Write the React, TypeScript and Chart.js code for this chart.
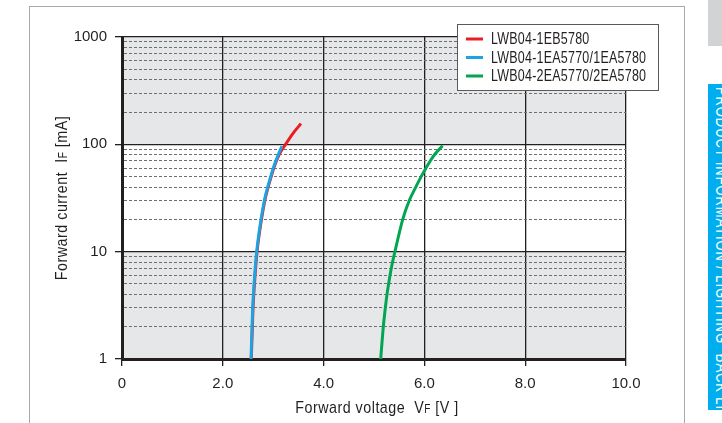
import React, { useEffect, useRef } from 'react';
import { Chart, registerables } from 'chart.js';

Chart.register(...registerables);

// ---------- data ----------
const seriesLabels = ['LWB04-1EB5780', 'LWB04-1EA5770/1EA5780', 'LWB04-2EA5770/2EA5780'];
const seriesColors = ['#ed1c24', '#1ba4e1', '#00a651'];

const redV = [2.565, 2.587, 2.60, 2.628, 2.68, 2.768, 2.834, 2.90, 2.96, 3.01, 3.115, 3.245, 3.39, 3.55];
const redI = [1, 2, 3, 5, 10, 20, 30, 40, 50, 60, 80, 100, 126, 156];

const blueV = [2.56, 2.58, 2.593, 2.62, 2.672, 2.758, 2.824, 2.89, 2.95, 3.00, 3.10, 3.17];
const blueI = [1, 2, 3, 5, 10, 20, 30, 40, 50, 60, 80, 96];

const greenV = [5.133, 5.185, 5.225, 5.258, 5.29, 5.317, 5.368, 5.415, 5.57, 5.70, 5.83, 5.935, 6.03, 6.115, 6.20, 6.36];
const greenI = [1, 2, 3, 4, 5, 6, 8, 10, 20, 30, 40, 50, 60, 70, 80, 97];

const xTickValues = [0, 2, 4, 6, 8, 10];
const yMajorTicks = [1, 10, 100, 1000];
const yMinorTicks = [2, 3, 4, 5, 6, 7, 8, 9, 20, 30, 40, 50, 60, 70, 80, 90, 200, 300, 400, 500, 600, 700, 800, 900];
const shadedBands = [[100, 1000], [1, 10]];

const xTitleParts = ['Forward voltage  V', 'F', ' [V ]'];
const yTitleParts = ['Forward current  I', 'F', ' [mA]'];
const sideText = 'PRODUCT INFORMATION / LIGHTING  \u30FB  BACK LIGHT SMD LED';

// ---------- styles ----------
const FONT = "'Liberation Sans', Arial, sans-serif";
const DARK = '#231f20';
const MINOR = '#6d6e71';
const BAND = '#e6e7e8';
const NARROW = 0.84;

const isMajor = (v: number) => yMajorTicks.includes(v);

const bandPlugin = {
  id: 'bands',
  beforeDraw(chart: any) {
    const { ctx, chartArea, scales } = chart;
    ctx.save();
    ctx.fillStyle = BAND;
    for (const [lo, hi] of shadedBands) {
      const y1 = scales.y.getPixelForValue(hi);
      const y2 = scales.y.getPixelForValue(lo);
      ctx.fillRect(chartArea.left, y1, chartArea.right - chartArea.left, y2 - y1);
    }
    ctx.restore();
  },
};

function drawParts(ctx: any, parts: string[], big: number, small: number, spacing: number) {
  ctx.letterSpacing = `${spacing}px`;
  const fonts = parts.map((_, i) => (i === 1 ? `${small}px ${FONT}` : `${big}px ${FONT}`));
  const widths = parts.map((p, i) => {
    ctx.font = fonts[i];
    return ctx.measureText(p).width;
  });
  const total = widths.reduce((a, b) => a + b, 0);
  ctx.scale(NARROW, 1);
  let x = -total / 2;
  parts.forEach((p, i) => {
    ctx.font = fonts[i];
    ctx.fillText(p, x, 0);
    x += widths[i];
  });
  ctx.letterSpacing = '0px';
}

const titlePlugin = {
  id: 'axisTitles',
  afterDraw(chart: any) {
    const { ctx, chartArea } = chart;
    ctx.save();
    ctx.fillStyle = DARK;
    ctx.textBaseline = 'alphabetic';
    ctx.textAlign = 'left';
    ctx.save();
    ctx.translate((chartArea.left + chartArea.right) / 2 + 3, 413);
    drawParts(ctx, xTitleParts, 17, 12, 0.6);
    ctx.restore();
    ctx.save();
    ctx.translate(67, (chartArea.top + chartArea.bottom) / 2);
    ctx.rotate(-Math.PI / 2);
    drawParts(ctx, yTitleParts, 17, 12, 0.6);
    ctx.restore();
    ctx.restore();
  },
};

const legendPlugin = {
  id: 'boxLegend',
  afterDraw(chart: any) {
    const { ctx } = chart;
    const bx = 457, by = 24, bw = 201, bh = 66;
    ctx.save();
    ctx.fillStyle = '#ffffff';
    ctx.fillRect(bx, by, bw, bh);
    ctx.strokeStyle = '#58595b';
    ctx.lineWidth = 1;
    ctx.strokeRect(bx + 0.5, by + 0.5, bw, bh);
    chart.data.datasets.forEach((ds: any, i: number) => {
      const y = by + 15 + i * 18.5;
      ctx.strokeStyle = ds.borderColor;
      ctx.lineWidth = 3;
      ctx.beginPath();
      ctx.moveTo(bx + 9, y);
      ctx.lineTo(bx + 26, y);
      ctx.stroke();
      ctx.save();
      ctx.fillStyle = DARK;
      ctx.font = `16px ${FONT}`;
      ctx.letterSpacing = '0.3px';
      ctx.textBaseline = 'middle';
      ctx.textAlign = 'left';
      ctx.translate(bx + 34, y + 1);
      ctx.scale(0.78, 1);
      ctx.fillText(ds.label, 0, 0);
      ctx.restore();
    });
    ctx.restore();
  },
};

const toPoints = (xs: number[], ys: number[]) => xs.map((x, i) => ({ x, y: ys[i] }));

export default function App() {
  const canvasRef = useRef<HTMLCanvasElement | null>(null);

  useEffect(() => {
    if (!canvasRef.current) return;
    const series = [
      { v: redV, i: redI, order: 2 },
      { v: blueV, i: blueI, order: 1 },
      { v: greenV, i: greenI, order: 0 },
    ];
    const chart = new Chart(canvasRef.current, {
      type: 'line',
      data: {
        datasets: series.map((s, k) => ({
          label: seriesLabels[k],
          data: toPoints(s.v, s.i),
          borderColor: seriesColors[k],
          backgroundColor: seriesColors[k],
          borderWidth: 3,
          pointRadius: 0,
          cubicInterpolationMode: 'monotone',
          fill: false,
          order: s.order,
        })),
      },
      options: {
        animation: false,
        responsive: false,
        devicePixelRatio: 1,
        layout: { padding: { top: 37, right: 96, left: 0, bottom: 0 } },
        plugins: { legend: { display: false }, tooltip: { enabled: false }, title: { display: false } },
        scales: {
          x: {
            type: 'linear',
            min: 0,
            max: 10,
            afterBuildTicks: (scale: any) => {
              scale.ticks = xTickValues.map((value) => ({ value }));
            },
            afterFit: (scale: any) => {
              scale.height = 64;
            },
            ticks: {
              autoSkip: false,
              maxRotation: 0,
              padding: 9,
              color: DARK,
              font: { family: FONT, size: 15 },
              callback: (v: any) => (Number(v) === 0 ? '0' : Number(v).toFixed(1)),
            },
            grid: {
              color: DARK,
              lineWidth: 1.3,
              tickLength: 7,
              tickColor: DARK,
              tickWidth: 1.3,
            },
            border: { display: true, color: DARK, width: 3 },
          },
          y: {
            type: 'logarithmic',
            min: 1,
            max: 1000,
            afterBuildTicks: (scale: any) => {
              scale.ticks = [...yMajorTicks, ...yMinorTicks]
                .sort((a, b) => a - b)
                .map((value) => ({ value, major: isMajor(value) }));
            },
            afterFit: (scale: any) => {
              scale.width = 122;
            },
            ticks: {
              autoSkip: false,
              padding: 8,
              color: DARK,
              font: { family: FONT, size: 15 },
              callback: (v: any) => (isMajor(Number(v)) ? String(v) : ''),
            },
            grid: {
              color: (c: any) => (c.tick && !isMajor(c.tick.value) ? MINOR : DARK),
              lineWidth: (c: any) => (c.tick && !isMajor(c.tick.value) ? 1 : 1.3),
              tickLength: 7,
              tickColor: (c: any) => (c.tick && !isMajor(c.tick.value) ? 'rgba(0,0,0,0)' : DARK),
              tickWidth: 1.3,
            },
            border: {
              display: true,
              color: DARK,
              width: 3,
              dash: (c: any) => (c.tick && !isMajor(c.tick.value) ? [3, 2] : []),
            },
          },
        },
      } as any,
      plugins: [bandPlugin, titlePlugin, legendPlugin],
    });
    return () => chart.destroy();
  }, []);

  return (
    <div
      style={{
        position: 'fixed',
        left: 0,
        top: 0,
        width: 722,
        height: 423,
        overflow: 'hidden',
        background: '#ffffff',
      }}
    >
      <div
        style={{
          position: 'absolute',
          left: 29,
          top: 6,
          width: 656,
          height: 440,
          border: '1.5px solid #a7a9ac',
          boxSizing: 'border-box',
        }}
      />
      <div style={{ position: 'absolute', left: 708, top: 0, width: 14, height: 46, background: '#d1d3d4' }} />
      <div
        style={{
          position: 'absolute',
          left: 708,
          top: 84,
          width: 14,
          height: 326,
          background: '#00aeef',
          overflow: 'hidden',
        }}
      >
        <div
          style={{
            position: 'absolute',
            left: 4,
            top: 3,
            writingMode: 'vertical-rl',
            color: '#ffffff',
            fontFamily: FONT,
            fontSize: 13,
            letterSpacing: 0.9,
            whiteSpace: 'nowrap',
            lineHeight: '14px',
            transform: 'scaleX(1.2)',
            transformOrigin: 'left top',
          }}
        >
          {sideText}
        </div>
      </div>
      <canvas
        ref={canvasRef}
        width={722}
        height={423}
        style={{ position: 'absolute', left: 0, top: 0, width: 722, height: 423 }}
      />
    </div>
  );
}
